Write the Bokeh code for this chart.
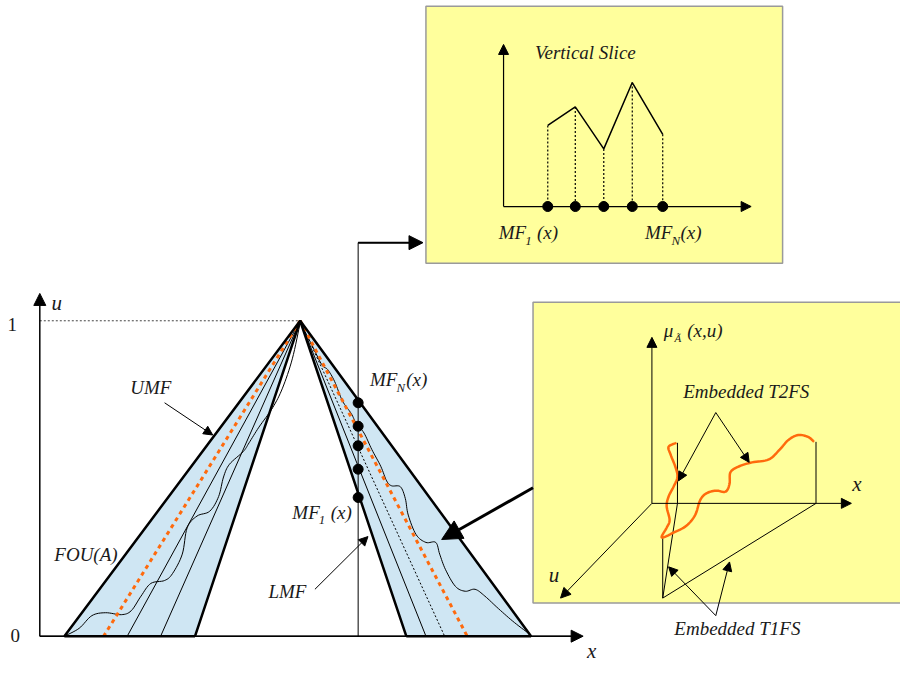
import numpy as np
from bokeh.plotting import figure
from bokeh.models import Range1d, Arrow, NormalHead
from bokeh.embed import file_html
from bokeh.resources import INLINE
from bokeh.core.properties import value

# ---------------- main FOU diagram (picture pixel coordinates) ----------------
apex_x, apex_y = 305, 328
base_y = 651
axis_origin = (40, 651)
u_axis_top = 300
x_axis_end = 593
umf_feet = [65, 540]
lmf_feet = [198, 413]
left_line_feet = [129, 163]
right_line_foot = 433
right_dotted_foot = 452
orange_feet = [105, 475]
left_wavy_x = [65, 80, 93, 107, 123, 133, 143, 153, 167, 175, 185, 190, 200, 213,
               222, 227, 233, 247, 253, 263, 277, 287, 297, 305]
left_wavy_y = [651, 643, 630, 627, 629, 625, 610, 597, 594, 587, 567, 540, 528, 523,
               508, 488, 475, 462, 453, 437, 417, 397, 367, 330]
right_wavy_x = [305, 317, 327, 333, 340, 348, 357, 362, 370, 378, 387, 393, 398, 407,
                412, 415, 423, 433, 443, 447, 453, 463, 473, 483, 493, 507, 523, 540]
right_wavy_y = [330, 353, 373, 378, 390, 410, 423, 433, 443, 460, 477, 492, 497, 498,
                510, 527, 547, 555, 555, 567, 583, 600, 605, 603, 610, 623, 637, 650]
slice_x = 364
slice_dots_y = [412, 436, 456, 480, 509]
connector_y = 248
connector_end_x = 430

# ---------------- vertical slice panel ----------------
box1 = (433, 6, 796, 269)  # left, top, right, bottom
vs_origin = (512, 211)
vs_axis_top = 45
vs_axis_right = 764
slice_pos_x = [557, 585, 614, 643, 674]
slice_val_y = [128, 109, 152, 84, 137]

# ---------------- 3D panel ----------------
box2 = (542, 309, 930, 617)
o3 = (663, 515)
z_top = 345
x3_end = 866
u3_end = (570, 612)
t1_x = [689, 689, 674, 830, 830]
t1_y = [453, 515, 612, 515, 452]
t1b_x = [674, 674]
t1b_y = [550, 612]
t2_x = [688, 680, 682, 687, 689, 685, 680, 678, 681, 678, 673, 685, 698, 707, 712, 718,
        728, 738, 742, 743, 752, 765, 782, 793, 802, 812, 822, 828]
t2_y = [453, 457, 465, 478, 488, 498, 508, 518, 532, 540, 550, 545, 538, 527, 512, 505,
        502, 503, 495, 483, 477, 473, 470, 460, 450, 445, 447, 452]

ORANGE = "#ff6a0d"
BLUE = "#cfe6f3"
YELLOW = "#ffff9c"
TXT = "#1a1a1a"

p = figure(width=900, height=663, x_range=Range1d(0, 916), y_range=Range1d(679, 0),
           output_backend="svg", toolbar_location=None, min_border=0,
           x_axis_type=None, y_axis_type=None)
p.grid.visible = False
p.outline_line_color = None
p.background_fill_color = "white"
p.border_fill_color = "white"


def smooth(xs, ys, n=8):
    """Catmull-Rom curve through the given points (drawing only)."""
    pts = np.column_stack([xs, ys]).astype(float)
    pts = np.vstack([pts[0], pts, pts[-1]])
    out = []
    for i in range(1, len(pts) - 2):
        p0, p1, p2, p3 = pts[i - 1], pts[i], pts[i + 1], pts[i + 2]
        for t in np.linspace(0, 1, n, endpoint=False):
            t2, t3 = t * t, t * t * t
            out.append(0.5 * ((2 * p1) + (-p0 + p2) * t + (2 * p0 - 5 * p1 + 4 * p2 - p3) * t2
                              + (-p0 + 3 * p1 - 3 * p2 + p3) * t3))
    out.append(pts[-2])
    out = np.array(out)
    return out[:, 0], out[:, 1]


def arrow(x0, y0, x1, y1, lw=1.0, size=9):
    p.add_layout(Arrow(x_start=x0, y_start=y0, x_end=x1, y_end=y1, line_width=lw,
                       line_color="black",
                       end=NormalHead(size=size, fill_color="black", line_color="black",
                                      line_width=1)))


def txt(x, y, s, size=19, style="italic", align="left"):
    p.text(x=[x], y=[y], text=[s], text_font=value("Liberation Serif"),
           text_font_size=f"{size}px", text_font_style=style, text_align=align,
           text_baseline="middle", text_color=TXT)


# ---- yellow boxes ----
for (l, t, r, b) in (box1, box2):
    p.patch([l, r, r, l], [t, t, b, b], fill_color=YELLOW, line_color="#9a9a9a", line_width=1.5)

# ---- FOU shaded regions ----
p.patch([umf_feet[0], apex_x, lmf_feet[0]], [base_y, apex_y, base_y], fill_color=BLUE,
        line_color=None)
p.patch([lmf_feet[1], apex_x, umf_feet[1]], [base_y, apex_y, base_y], fill_color=BLUE,
        line_color=None)

# inner embedded lines
for fx in left_line_feet + [right_line_foot]:
    p.line([apex_x, fx], [apex_y, base_y], line_color="black", line_width=1)
p.line([apex_x, right_dotted_foot], [apex_y, base_y], line_color="black", line_width=1,
       line_dash="2 2")
sx, sy = smooth(left_wavy_x, left_wavy_y)
p.line(sx, sy, line_color="black", line_width=1)
sx, sy = smooth(right_wavy_x, right_wavy_y)
p.line(sx, sy, line_color="black", line_width=1)
for fx in orange_feet:
    p.line([apex_x, fx], [apex_y, base_y], line_color=ORANGE, line_width=3, line_dash="4 4")

# axes
p.line([axis_origin[0], x_axis_end - 10], [base_y, base_y], line_color="#555555", line_width=1.5)
arrow(axis_origin[0], base_y, x_axis_end, base_y, lw=1.5, size=12)
arrow(axis_origin[0], base_y, axis_origin[0], u_axis_top, lw=1.5, size=12)
p.line([axis_origin[0], apex_x], [apex_y, apex_y], line_color="#444444", line_width=1,
       line_dash="2 2")

# UMF / LMF outlines
p.line([umf_feet[0], apex_x, umf_feet[1]], [base_y, apex_y, base_y], line_color="black",
       line_width=2.5)
p.line([lmf_feet[0], apex_x, lmf_feet[1]], [base_y, apex_y, base_y], line_color="black",
       line_width=2.5)
p.line([umf_feet[0], lmf_feet[0]], [base_y, base_y], line_color="black", line_width=2.5)
p.line([lmf_feet[1], umf_feet[1]], [base_y, base_y], line_color="black", line_width=2.5)

# vertical slice line + connector
p.line([slice_x, slice_x, connector_end_x - 12], [base_y, connector_y, connector_y],
       line_color="black", line_width=1)
arrow(slice_x, connector_y, connector_end_x, connector_y, lw=2, size=14)
p.scatter([slice_x] * len(slice_dots_y), slice_dots_y, size=10, fill_color="black",
          line_color="black")

# annotation arrows
arrow(167, 412, 216, 445, lw=1, size=9)
arrow(320, 603, 374, 549, lw=1, size=9)
arrow(542, 499, 449, 552, lw=3, size=20)

# main labels
txt(52, 310, "u", size=21)
txt(12, 332, "1", style="normal", align="center")
txt(15, 650, "0", style="normal", align="center")
txt(597, 666, "x", size=21)
txt(153, 396, "UMF", align="center")
txt(87, 567, "FOU(A)", align="center")
txt(292, 605, "LMF", align="center")
txt(376, 388, "MF")
txt(403, 396, "N", size=13)
txt(413, 388, "(x)")
txt(297, 524, "MF")
txt(324, 532, "1", size=13)
txt(336, 524, "(x)")

# ---- vertical slice panel ----
arrow(vs_origin[0], vs_origin[1], vs_origin[0], vs_axis_top, lw=1.2, size=10)
arrow(vs_origin[0], vs_origin[1], vs_axis_right, vs_origin[1], lw=1.2, size=10)
for xx, yy in zip(slice_pos_x, slice_val_y):
    p.line([xx, xx], [yy, vs_origin[1]], line_color="black", line_width=1.2, line_dash="2 2")
p.line(slice_pos_x, slice_val_y, line_color="black", line_width=1.5)
p.scatter(slice_pos_x, [vs_origin[1]] * len(slice_pos_x), size=10, fill_color="black",
          line_color="black")
txt(544, 53, "Vertical Slice")
txt(507, 238, "MF")
txt(534, 246, "1", size=13)
txt(546, 238, "(x)")
txt(656, 238, "MF")
txt(683, 246, "N", size=13)
txt(692, 238, "(x)")

# ---- 3D panel ----
arrow(o3[0], o3[1], o3[0], z_top, lw=1, size=10)
arrow(o3[0], o3[1], x3_end, o3[1], lw=1, size=10)
arrow(o3[0], o3[1], u3_end[0], u3_end[1], lw=1, size=10)
p.line(t1_x, t1_y, line_color="black", line_width=1)
p.line(t1b_x, t1b_y, line_color="black", line_width=1)
sx, sy = smooth(t2_x, t2_y)
p.line(sx, sy, line_color=ORANGE, line_width=2.5)
arrow(728, 422, 690, 492, lw=1, size=9)
arrow(728, 422, 762, 473, lw=1, size=9)
arrow(728, 630, 680, 580, lw=1, size=9)
arrow(728, 630, 742, 575, lw=1, size=9)
txt(675, 338, "μ")
txt(686, 346, "Ã", size=11)
txt(699, 338, "(x,u)")
txt(759, 400, "Embedded T2FS", align="center")
txt(867, 495, "x", size=21)
txt(558, 588, "u", size=21)
txt(750, 643, "Embedded T1FS", align="center")

open("out.html", "w").write(file_html(p, INLINE))
